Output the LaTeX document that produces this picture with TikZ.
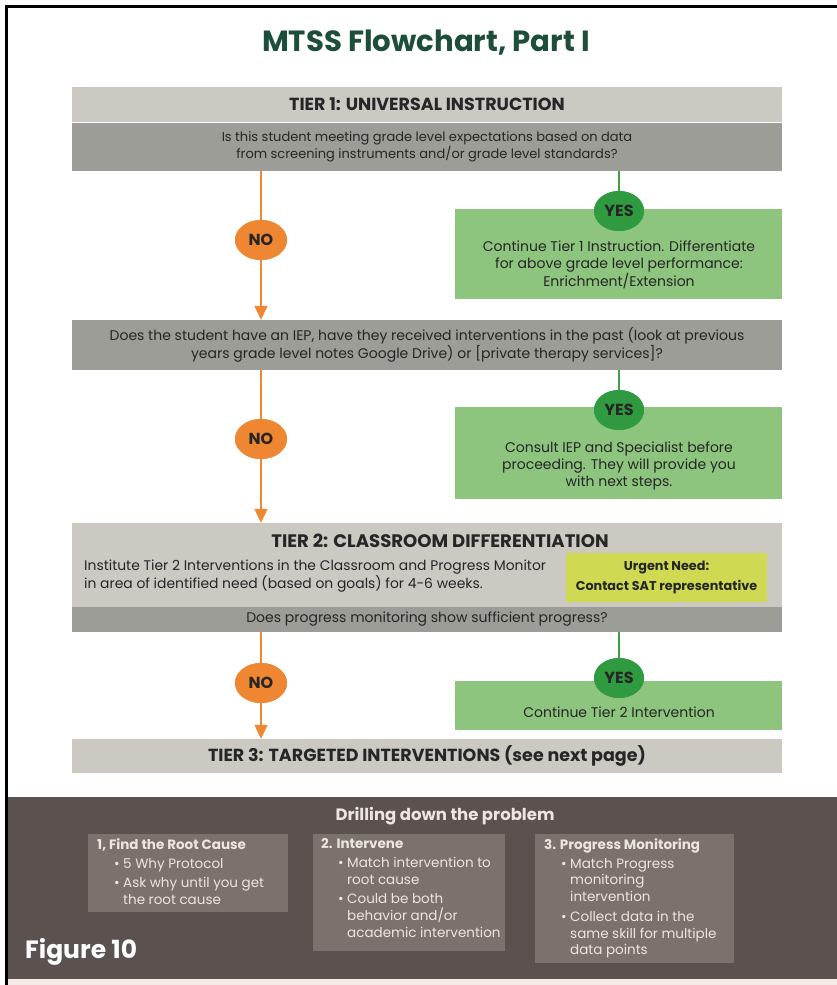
\documentclass[tikz,border=0pt]{standalone}
\usepackage{fontspec}
\setmainfont{Poppins}
\usetikzlibrary{arrows.meta,shapes.geometric}
\definecolor{ltgray}{HTML}{CCC9C3}
\definecolor{dkgray}{HTML}{9C9D96}
\definecolor{orng}{HTML}{EF8631}
\definecolor{gdark}{HTML}{2F9A3F}
\definecolor{gbox}{HTML}{8DC47E}
\definecolor{gline}{HTML}{3FA04C}
\definecolor{ylw}{HTML}{CFDA52}
\definecolor{band}{HTML}{5B514E}
\definecolor{bandbox}{HTML}{7B716D}
\definecolor{bandtxt}{HTML}{ECE6E2}
\definecolor{ttl}{HTML}{1D4E3A}
\definecolor{txt}{HTML}{262626}
\definecolor{pinkstrip}{HTML}{F6EAE6}
\newcommand\bl{\hspace*{17pt}\makebox[9pt][l]{\textbullet}}
\newcommand\cl{\hspace*{26pt}}
\newcommand\fsz[1]{\fontsize{#1}{16.7}\selectfont}
\begin{document}
\begin{tikzpicture}[x=1pt,y=-1pt,
  bar/.style={rectangle, inner sep=0pt, minimum width=710, text=txt, align=center},
  hdr/.style={bar, fill=ltgray, font=\fontsize{17.5}{19}\selectfont\bfseries},
  qbox/.style={bar, fill=dkgray},
  gbx/.style={rectangle, inner sep=0pt, fill=gbox, minimum width=327},
  gtxt/.style={inner sep=0pt, text=txt, align=center, font=\fsz{14}},
  noel/.style={ellipse, fill=orng, inner sep=0pt, minimum width=52, minimum height=40, font=\fontsize{16}{17}\selectfont\bfseries, text=txt},
  yesel/.style={ellipse, fill=gdark, inner sep=0pt, minimum width=50, minimum height=40, font=\fontsize{16}{17}\selectfont\bfseries, text=txt},
  oline/.style={draw=orng, line width=1.3pt},
  gln/.style={draw=gline, line width=1.3pt},
  oarr/.style={oline, -{Triangle[length=14pt,width=13pt]}},
  bbox/.style={rectangle, inner sep=0pt, fill=bandbox, anchor=north west},
  btxt/.style={anchor=north west, inner sep=0pt, align=left, text=bandtxt, font=\fsz{13.5}}
]
\useasboundingbox (0,0) rectangle (837,985);
\fill[white] (0,0) rectangle (837,985);
% frame
\draw[line width=3pt] (6.5,985) -- (6.5,6) -- (837,6);
% bottom band
\fill[band] (8,797) rectangle (837,979);
\fill[pinkstrip] (8,979) rectangle (837,985);

% title
\node[text=ttl, font=\fontsize{29.2}{32}\selectfont\bfseries] (title) at (426,43) {MTSS Flowchart, Part I};

% Tier 1
\node[hdr, minimum height=35] (t1) at (427,104.5) {TIER 1: UNIVERSAL INSTRUCTION};
\node[qbox, minimum height=48, font=\fsz{13}] (q1) at (427,146.5) {Is this student meeting grade level expectations based on data\\from screening instruments and/or grade level standards?};
\node[gbx, minimum height=90] (g1) at (618.5,254) {};
\node[gtxt] (g1t) at (619,265) {Continue Tier 1 Instruction. Differentiate\\for above grade level performance:\\Enrichment/Extension};
\node[noel] (no1) at (261,240) {NO};
\node[yesel] (yes1) at (619,211) {YES};

% Question 2
\node[qbox, minimum height=50, font=\fsz{14}] (q2) at (427,345) {Does the student have an IEP, have they received interventions in the past (look at previous\\years grade level notes Google Drive) or [private therapy services]?};
\node[gbx, minimum height=92] (g2) at (618.5,453) {};
\node[gtxt] (g2t) at (619,466) {Consult IEP and Specialist before\\proceeding. They will provide you\\with next steps.};
\node[noel] (no2) at (261,439) {NO};
\node[yesel] (yes2) at (619,410) {YES};

% Tier 2
\node[bar, fill=ltgray, minimum height=84] (t2) at (427,565) {};
\node[font=\fontsize{18.1}{20}\selectfont\bfseries, text=txt, inner sep=0pt] (t2h) at (440,540.5) {TIER 2: CLASSROOM DIFFERENTIATION};
\node[anchor=west, align=left, inner sep=0pt, text=txt, font=\fsz{13.9}] (t2t) at (84,576) {Institute Tier 2 Interventions in the Classroom and Progress Monitor\\in area of identified need (based on goals) for 4-6 weeks.};
\node[rectangle, fill=ylw, inner sep=0pt, minimum width=201, minimum height=49, text=txt, align=center, font=\fontsize{12.8}{19.5}\selectfont\bfseries] (urg) at (666.5,577.5) {Urgent Need:\\Contact SAT representative};
\node[qbox, minimum height=25, font=\fsz{14}] (q3) at (427,619.5) {Does progress monitoring show sufficient progress?};
\node[gbx, minimum height=49] (g3) at (618.5,705.5) {};
\node[gtxt] (g3t) at (619,712) {Continue Tier 2 Intervention};
\node[noel] (no3) at (261,683) {NO};
\node[yesel] (yes3) at (619,678) {YES};

% Tier 3
\node[hdr, minimum height=34] (t3) at (427,756) {TIER 3: TARGETED INTERVENTIONS (see next page)};

% connectors
\draw[oline] (q1.south -| no1) -- (no1);
\draw[oarr] (no1) -- (q2.north -| no1);
\draw[gln] (q1.south -| yes1) -- (yes1.north);
\draw[oline] (q2.south -| no2) -- (no2);
\draw[oarr] (no2) -- (t2.north -| no2);
\draw[gln] (q2.south -| yes2) -- (yes2.north);
\draw[oline] (q3.south -| no3) -- (no3);
\draw[oarr] (no3) -- (t3.north -| no3);
\draw[gln] (q3.south -| yes3) -- (yes3.north);
% redraw ellipses above lines
\node[noel] at (no1) {NO};
\node[noel] at (no2) {NO};
\node[noel] at (no3) {NO};
\node[yesel] at (yes1) {YES};
\node[yesel] at (yes2) {YES};
\node[yesel] at (yes3) {YES};

% bottom band
\node[text=bandtxt, font=\fontsize{16.5}{18}\selectfont\bfseries] (dd) at (445,816) {Drilling down the problem};
\node[bbox, minimum width=200, minimum height=78] (b1) at (88,834) {};
\node[bbox, minimum width=192, minimum height=117] (b2) at (313,834) {};
\node[bbox, minimum width=199, minimum height=129] (b3) at (535,834) {};
\node[btxt] (b1t) at (97,838.5) {{\bfseries 1, Find the Root Cause}\\[2pt]\bl 5 Why Protocol\\[3pt]\bl Ask why until you get\\\cl the root cause};
\node[btxt] (b2t) at (321,838.5) {{\bfseries 2. Intervene}\\[2pt]\bl Match intervention to\\\cl root cause\\[3pt]\bl Could be both\\\cl behavior and/or\\\cl academic intervention};
\node[btxt] (b3t) at (544,838.5) {{\bfseries 3. Progress Monitoring}\\[2pt]\bl Match Progress\\\cl monitoring\\\cl intervention\\[3pt]\bl Collect data in the\\\cl same skill for multiple\\\cl data points};
\node[anchor=west, text=white, inner sep=0pt, font=\fontsize{25}{27}\selectfont\bfseries] (fig) at (25,952) {Figure 10};
\end{tikzpicture}
\end{document}
